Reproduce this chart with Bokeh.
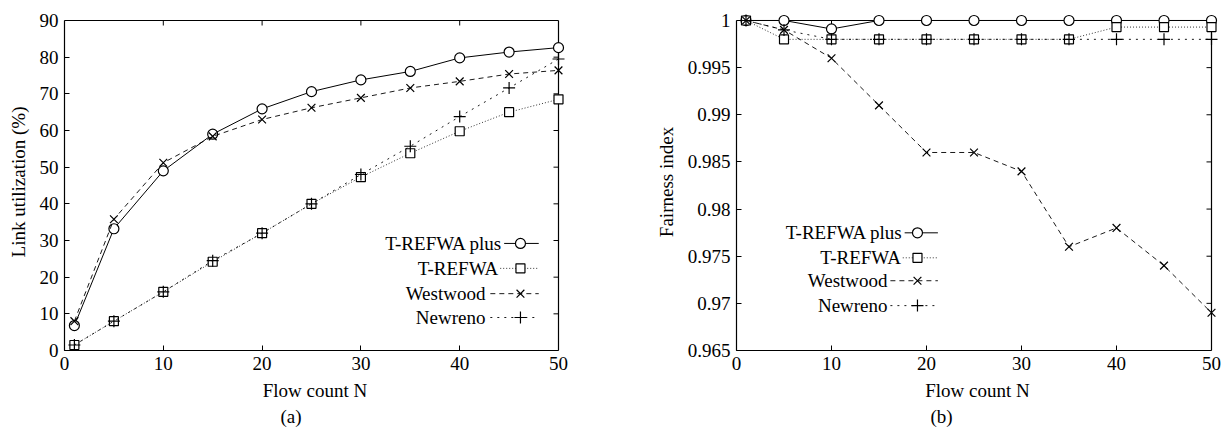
import math
from bokeh.plotting import figure
from bokeh.layouts import row
from bokeh.models import FixedTicker, Label, CustomJSTickFormatter, Title
from bokeh.embed import file_html
from bokeh.resources import INLINE

# ---------------- data ----------------
flow_count = [1, 5, 10, 15, 20, 25, 30, 35, 40, 45, 50]
series_names = ["T-REFWA plus", "T-REFWA", "Westwood", "Newreno"]

util_trefwa_plus = [6.8, 33.2, 49.0, 59.0, 65.9, 70.6, 73.8, 76.1, 79.8, 81.4, 82.6]
util_trefwa = [1.5, 8.0, 16.0, 24.2, 32.0, 40.0, 47.3, 53.8, 59.8, 65.0, 68.5]
util_westwood = [8.0, 35.8, 51.2, 58.4, 63.0, 66.2, 68.9, 71.6, 73.4, 75.4, 76.4]
util_newreno = [1.5, 8.0, 16.0, 24.5, 32.0, 40.0, 48.0, 55.7, 63.8, 71.6, 79.5]

fair_trefwa_plus = [1.0, 1.0, 0.9991, 1.0, 1.0, 1.0, 1.0, 1.0, 1.0, 1.0, 1.0]
fair_trefwa = [1.0, 0.998, 0.998, 0.998, 0.998, 0.998, 0.998, 0.998, 0.9993, 0.9993, 0.9993]
fair_westwood = [1.0, 0.999, 0.996, 0.991, 0.986, 0.986, 0.984, 0.976, 0.978, 0.974, 0.969]
fair_newreno = [1.0, 0.999, 0.998, 0.998, 0.998, 0.998, 0.998, 0.998, 0.998, 0.998, 0.998]

x_ticks = [0, 10, 20, 30, 40, 50]
util_ticks = [0, 10, 20, 30, 40, 50, 60, 70, 80, 90]
fair_ticks = [0.965, 0.97, 0.975, 0.98, 0.985, 0.99, 0.995, 1.0]

x_title = "Flow count N"

# ---------------- style ----------------
FONT = "Liberation Serif"
FS = "19px"
markers = ["circle", "square", "x", "cross"]
marker_sizes = [10, 9, 11, 12]
dashes = ["solid", "1 2", "5 4", "2 5"]
line_alphas = [1.0, 0.8, 0.9, 0.9]
H = 428
EXT = 7  # extra pixels of frame beyond the drawn box so edge markers are not cut

fmt = CustomJSTickFormatter(code="return String(parseFloat(tick.toFixed(4)));")


def make_panel(width, border_left, border_right, border_top, box_w, box_h, xr, yr, y_ticks,
               ylabel, series, legend, caption, caption_offset):
    x_end = xr[1] + EXT * (xr[1] - xr[0]) / box_w
    y_end = yr[1] + EXT * (yr[1] - yr[0]) / box_h
    bt = border_top - EXT
    frame_h = box_h + EXT
    p = figure(width=width, height=H, x_range=(xr[0], x_end), y_range=(yr[0], y_end),
               output_backend="svg", toolbar_location=None,
               min_border_left=border_left, min_border_right=border_right - EXT,
               min_border_top=bt, min_border_bottom=H - bt - frame_h)
    p.grid.visible = False
    p.outline_line_color = None
    p.background_fill_color = "white"
    p.border_fill_color = "white"

    p.xaxis.ticker = FixedTicker(ticks=x_ticks)
    p.yaxis.ticker = FixedTicker(ticks=y_ticks)
    p.yaxis.formatter = fmt
    p.xaxis.bounds = xr
    p.yaxis.bounds = yr
    for ax in p.xaxis + p.yaxis:
        ax.major_tick_in = 5
        ax.major_tick_out = 0
        ax.minor_tick_line_color = None
        ax.axis_line_color = "black"
        ax.axis_line_width = 1.2
        ax.major_label_text_font = FONT
        ax.major_label_text_font_size = FS
        ax.major_label_text_color = "black"
        ax.axis_label_text_font = FONT
        ax.axis_label_text_font_size = FS
        ax.axis_label_text_font_style = "normal"
        ax.axis_label_text_color = "black"
    p.xaxis.major_label_standoff = 6
    p.yaxis.major_label_standoff = 6
    p.yaxis.axis_label = ylabel
    p.yaxis.axis_label_standoff = 8
    p.xaxis.axis_label = x_title
    p.xaxis.axis_label_standoff = 7

    # top and right edges of the box, with mirrored inward ticks
    p.segment(x0=[xr[0], xr[1]], y0=[yr[1], yr[0]], x1=[xr[1], xr[1]], y1=[yr[1], yr[1]],
              line_color="black", line_width=1.2)
    p.ray(x=x_ticks[1:-1], y=[yr[1]] * (len(x_ticks) - 2), length=5, length_units="screen",
          angle=-math.pi / 2, line_color="black", line_width=1)
    p.ray(x=[xr[1]] * (len(y_ticks) - 2), y=y_ticks[1:-1], length=5, length_units="screen",
          angle=math.pi, line_color="black", line_width=1)

    for vals, mk, ms, dash, la in zip(series, markers, marker_sizes, dashes, line_alphas):
        p.line(flow_count, vals, line_color="black", line_width=1, line_dash=dash,
               line_alpha=la)
        p.scatter(flow_count, vals, marker=mk, size=ms, line_color="black",
                  fill_color="white" if mk in ("circle", "square") else None,
                  line_width=1.2)

    # legend (text on the left, sample on the right)
    text_ends, ys, x0_min, x1, xm = legend
    for name, te, yy, mk, ms, dash, la in zip(series_names, text_ends, ys, markers,
                                             marker_sizes, dashes, line_alphas):
        p.add_layout(Label(x=te, y=yy, text=name, text_align="right", text_baseline="middle",
                           text_font=FONT, text_font_size=FS, text_color="black"))
        xs0 = max(te + 0.2, x0_min)
        p.line([xs0, x1], [yy, yy], line_color="black", line_width=1, line_dash=dash,
               line_alpha=la)
        p.scatter([xm], [yy], marker=mk, size=ms, line_color="black", fill_color="white"
                  if mk in ("circle", "square") else None, line_width=1.2)

    p.add_layout(Title(text=caption, align="left", text_font=FONT, text_font_size=FS,
                       text_font_style="normal", text_color="black", standoff=0,
                       offset=caption_offset), "below")
    return p


p1 = make_panel(640, 64, 82, 20, 494, 330, (0, 50), (0, 90), util_ticks, "Link utilization (%)",
                [util_trefwa_plus, util_trefwa, util_westwood, util_newreno],
                ([44.3, 43.9, 42.6, 42.6], [29.2, 22.4, 15.5, 9.0], 43.1, 48.0, 46.15),
                "(a)", 216)

p2 = make_panel(581, 96, 10, 19, 475, 331, (0, 50), (0.965, 1.0), fair_ticks, "Fairness index",
                [fair_trefwa_plus, fair_trefwa, fair_westwood, fair_newreno],
                ([17.5, 17.3, 15.9, 15.9], [0.97748, 0.97483, 0.97240, 0.96976], 16.2, 21.2, 19.05),
                "(b)", 194)

layout = row(p1, p2)
open("out.html", "w").write(file_html(layout, INLINE))
